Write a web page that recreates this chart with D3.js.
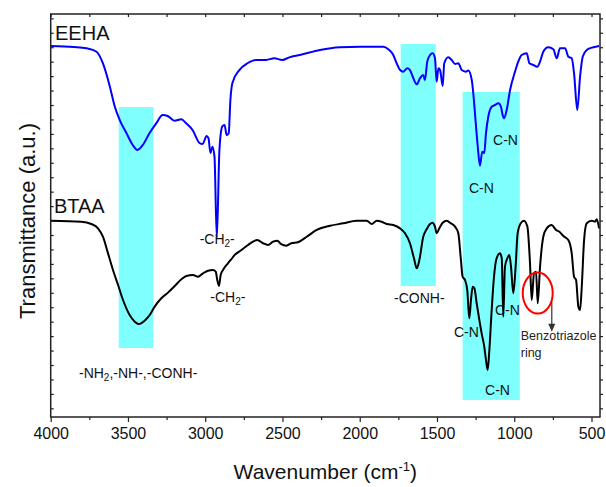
<!DOCTYPE html>
<html>
<head>
<meta charset="utf-8">
<script src="https://cdn.jsdelivr.net/npm/d3@7"></script>
<style>
  html, body { margin: 0; padding: 0; background: #fff; }
  svg { display: block; }
  text { font-family: "Liberation Sans", Arial, sans-serif; }
</style>
</head>
<body>
<svg id="chart" width="606" height="487"></svg>
<script>
// ---- data (wavenumber cm^-1, transmittance a.u.) ----
const eeha = [[4000,25.09],[3850,25.02],[3768,24.93],[3703,24.69],[3663,23.91],[3617,22.27],[3585,20.88],[3553,19.96],[3510,19.06],[3469,18.23],[3439,17.89],[3404,18.23],[3360,19.06],[3316,19.75],[3275,20.31],[3243,20.24],[3198,19.91],[3155,20.01],[3123,19.73],[3082,19.27],[3037,18.37],[3017,18.30],[2991,18.85],[2979,18.70],[2966,17.68],[2953,18.11],[2940,17.42],[2925,11.80],[2908,17.89],[2890,19.50],[2875,19.62],[2861,18.92],[2848,19.04],[2837,21.35],[2824,22.52],[2779,23.42],[2727,23.89],[2671,24.12],[2606,24.12],[2553,24.23],[2501,24.12],[2456,24.30],[2387,24.46],[2257,24.81],[2128,25.00],[1998,25.04],[1847,25.04],[1815,24.86],[1783,24.46],[1761,23.89],[1739,23.42],[1718,23.31],[1692,23.54],[1675,23.42],[1653,22.85],[1631,22.43],[1610,22.85],[1589,23.08],[1578,22.73],[1563,24.00],[1545,24.46],[1528,24.58],[1513,24.23],[1502,22.61],[1491,23.54],[1480,23.42],[1463,22.32],[1453,23.89],[1427,24.30],[1405,24.12],[1383,23.84],[1362,23.89],[1340,23.42],[1314,23.31],[1297,23.38],[1275,22.73],[1265,21.81],[1249,19.73],[1236,18.11],[1222,16.80],[1207,17.77],[1194,17.66],[1183,19.04],[1168,20.19],[1146,20.88],[1125,21.00],[1103,21.12],[1086,20.88],[1075,20.31],[1066,20.08],[1049,20.65],[1027,22.04],[995,23.31],[974,24.00],[952,24.46],[919,24.58],[902,23.89],[877,23.77],[851,23.65],[833,24.00],[812,24.69],[780,25.00],[747,24.86],[725,24.23],[704,24.93],[671,24.93],[650,24.34],[628,24.23],[613,23.20],[592,20.65],[574,22.96],[557,24.34],[531,24.81],[488,25.00],[451,25.09]];

const btaa = [[4000,12.99],[3802,12.92],[3737,12.76],[3694,12.46],[3662,11.88],[3629,10.73],[3597,9.58],[3564,8.54],[3532,7.50],[3489,6.46],[3456,6.00],[3430,5.84],[3392,6.07],[3359,6.46],[3327,7.04],[3284,7.62],[3241,8.01],[3197,8.47],[3154,8.93],[3122,9.16],[3079,9.23],[3047,9.11],[3014,9.35],[2982,9.53],[2950,9.58],[2932,9.46],[2922,8.89],[2911,8.47],[2900,9.23],[2885,9.58],[2853,10.04],[2835,10.27],[2809,10.62],[2766,10.96],[2723,11.31],[2691,11.54],[2663,11.65],[2626,11.43],[2594,11.31],[2561,11.54],[2533,11.61],[2508,11.36],[2475,11.26],[2443,11.43],[2399,11.50],[2343,11.88],[2278,12.35],[2192,12.64],[2106,12.81],[2020,12.99],[1955,12.99],[1922,12.76],[1890,12.99],[1858,12.92],[1825,12.76],[1783,12.69],[1739,12.46],[1707,12.12],[1675,11.43],[1649,10.39],[1631,9.69],[1614,10.27],[1589,11.88],[1567,12.40],[1545,12.76],[1530,12.85],[1513,12.58],[1502,12.12],[1485,12.46],[1463,12.85],[1437,12.99],[1416,12.85],[1383,12.58],[1362,12.12],[1347,10.50],[1334,9.11],[1319,8.89],[1304,8.19],[1291,6.23],[1280,7.50],[1269,8.42],[1258,8.31],[1243,7.27],[1226,6.12],[1211,5.19],[1194,4.27],[1183,3.35],[1172,2.65],[1161,4.04],[1146,6.81],[1131,9.11],[1114,10.39],[1092,10.73],[1081,10.39],[1071,6.34],[1060,9.81],[1045,10.39],[1032,10.62],[1021,9.81],[1006,7.96],[991,9.81],[978,12.12],[958,12.81],[937,12.99],[915,12.58],[898,10.04],[887,7.50],[872,9.35],[859,9.46],[848,7.27],[833,9.81],[812,11.88],[790,12.46],[758,12.69],[730,12.35],[708,12.23],[682,11.93],[650,11.65],[628,10.73],[613,9.11],[600,8.89],[585,7.04],[574,6.81],[563,8.42],[548,11.65],[531,12.81],[499,12.99],[477,12.92],[466,13.09],[451,12.46]];

// highlighted bands: [wn from, wn to, T low, T high]
const bands = [[3560,3335,4.18,20.86],[1735,1508,8.47,25.22],[1334,964,0.58,21.90]];

const xMajorTicks = [4000,3500,3000,2500,2000,1500,1000,500];
const xMinorTicks = [3750,3250,2750,2250,1750,1250,750];
const yTicks = d3.range(0, 28, 1);

// annotations
const seriesLabels = [["EEHA",3972,25.50],["BTAA",3979,13.52]];
const notes = [
  ["-CH", "2", "-", 3036, 11.36],
  ["-CH", "2", "-", 2967, 7.38],
  ["-NH", "2", ",-NH-,-CONH-", 3817, 2.10],
  ["-CONH-", "", "", 1778, 7.29],
  ["C-N", "", "", 1137, 18.23],
  ["C-N", "", "", 1293, 14.91],
  ["C-N", "", "", 1390, 4.96],
  ["C-N", "", "", 1125, 6.46],
  ["C-N", "", "", 1189, 0.92]
];
const ringNote = {lines:["Benzotriazole","ring"], wn:958, T:[4.73,3.57]};
const ringMark = {wn:848, T:7.98};
const ringArrow = {wn:757, from:7.38, to:5.30};

// ---- layout ----
const L = 50.7, R = 600, T0 = 14, B = 417;
const svg = d3.select("#chart");
const x = d3.scaleLinear().domain([4000, 445]).range([L, R]);
const y = d3.scaleLinear().domain([-0.6, 27.3]).range([B, T0]);

// bands
svg.append("g").selectAll("rect").data(bands).join("rect")
  .attr("x", d => x(d[0]))
  .attr("width", d => x(d[1]) - x(d[0]))
  .attr("y", d => y(d[3]))
  .attr("height", d => y(d[2]) - y(d[3]))
  .attr("fill", "#80ffff");

// lines
const line = d3.line().x(d => x(d[0])).y(d => y(d[1])).curve(d3.curveMonotoneX);
svg.append("path").datum(btaa).attr("d", line)
  .attr("fill", "none").attr("stroke", "#000").attr("stroke-width", 2).attr("stroke-linejoin", "round");
svg.append("path").datum(eeha).attr("d", line)
  .attr("fill", "none").attr("stroke", "#0000ff").attr("stroke-width", 2).attr("stroke-linejoin", "round");

// axes
const axColor = "#222";
function styleAxis(g) {
  g.select(".domain").remove();
  g.selectAll("line").attr("stroke", axColor).attr("stroke-width", 1.2);
  g.selectAll("text").attr("fill", "#111").style("font-size", "16px")
    .style("font-family", '"Liberation Sans", Arial, sans-serif');
}
const gB = svg.append("g").attr("transform", `translate(0,${B})`)
  .call(d3.axisBottom(x).tickValues(xMajorTicks).tickSize(5).tickPadding(6).tickFormat(d3.format("d")));
styleAxis(gB);
const gBm = svg.append("g").attr("transform", `translate(0,${B})`)
  .call(d3.axisBottom(x).tickValues(xMinorTicks).tickSize(3).tickFormat(""));
styleAxis(gBm);
const gT = svg.append("g").attr("transform", `translate(0,${T0})`)
  .call(d3.axisBottom(x).tickValues(xMajorTicks.concat(xMinorTicks)).tickSize(3).tickFormat(""));
styleAxis(gT);
const gL = svg.append("g").attr("transform", `translate(${L},0)`)
  .call(d3.axisRight(y).tickValues(yTicks).tickSize(3).tickFormat(""));
styleAxis(gL);
const gR = svg.append("g").attr("transform", `translate(${R},0)`)
  .call(d3.axisRight(y).tickValues(yTicks).tickSize(3).tickFormat(""));
styleAxis(gR);
svg.append("rect").attr("x", L).attr("y", T0).attr("width", R - L).attr("height", B - T0)
  .attr("fill", "none").attr("stroke", axColor).attr("stroke-width", 1.5);

// axis titles
const xt = svg.append("text").attr("x", (L + R) / 2).attr("y", 479).attr("text-anchor", "middle")
  .style("font-size", "21px").attr("fill", "#111");
xt.append("tspan").text("Wavenumber (cm");
xt.append("tspan").attr("dy", -8).style("font-size", "13px").text("-1");
xt.append("tspan").attr("dy", 8).text(")");
svg.append("text").attr("transform", "translate(35,221) rotate(-90)")
  .attr("text-anchor", "middle").style("font-size", "22px").attr("fill", "#111")
  .text("Transmittance (a.u.)");

// series labels
svg.append("g").selectAll("text").data(seriesLabels).join("text")
  .attr("x", d => x(d[1])).attr("y", d => y(d[2]))
  .style("font-size", "20px").attr("fill", "#111").text(d => d[0]);

// notes
notes.forEach(n => {
  const t = svg.append("text").attr("x", x(n[3])).attr("y", y(n[4]))
    .style("font-size", "14px").attr("fill", "#111");
  t.append("tspan").text(n[0]);
  if (n[1]) {
    t.append("tspan").attr("dy", 3).style("font-size", "10px").text(n[1]);
    t.append("tspan").attr("dy", -3).text(n[2]);
  }
});
ringNote.lines.forEach((s, i) => {
  svg.append("text").attr("x", x(ringNote.wn)).attr("y", y(ringNote.T[i]))
    .style("font-size", "12.5px").attr("fill", "#222").text(s);
});
svg.append("ellipse").attr("cx", x(ringMark.wn)).attr("cy", y(ringMark.T))
  .attr("rx", 15).attr("ry", 20.5).attr("fill", "none").attr("stroke", "#ff0000").attr("stroke-width", 2);
const ax = x(ringArrow.wn), ay1 = y(ringArrow.from), ay2 = y(ringArrow.to);
svg.append("line").attr("x1", ax).attr("x2", ax).attr("y1", ay1).attr("y2", ay2 - 6)
  .attr("stroke", "#333").attr("stroke-width", 1.2);
svg.append("path").attr("d", `M${ax - 3.5},${ay2 - 8} L${ax + 3.5},${ay2 - 8} L${ax},${ay2} Z`).attr("fill", "#333");
</script>
</body>
</html>
